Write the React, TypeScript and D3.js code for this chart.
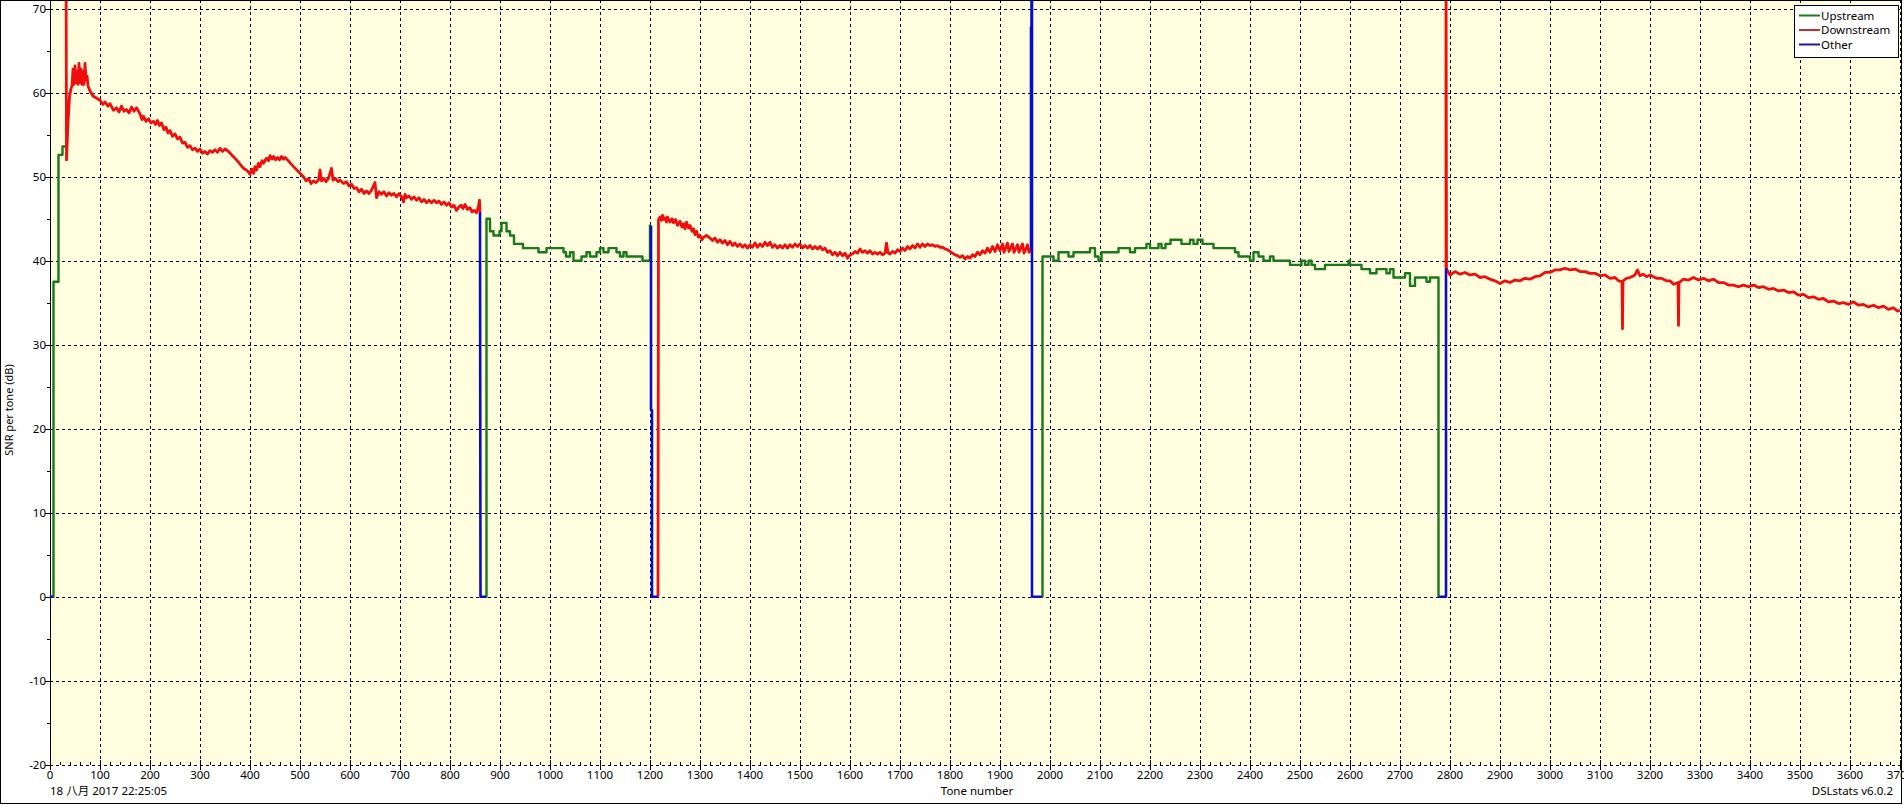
import React from "react";
import * as d3 from "d3";

const W = 1904;
const H = 805;

// ---------- data ----------
const xTickValues = d3.range(0, 3701, 100);
const yTickValues = [-20, -10, 0, 10, 20, 30, 40, 50, 60, 70];

// Upstream (green) bands, step data [tone, SNR dB]
const us0: [number, number][] = [
  [6, 0], [7, 37.5], [17, 52.6], [25, 53.6], [31, 53.6],
];
const us1: [number, number][] = [
  [872, 0], [873, 45.0], [880, 43.5], [887, 43.0], [899, 43.5], [903, 44.5],
  [913, 43.5], [920, 43.0], [928, 42.0], [946, 41.5], [977, 41.0], [993, 41.5],
  [1027, 41.0], [1032, 40.5], [1040, 41.0], [1047, 40.0], [1063, 40.5],
  [1073, 41.0], [1080, 40.5], [1093, 41.0], [1100, 41.5], [1107, 41.0],
  [1117, 41.5], [1133, 41.0], [1140, 40.5], [1147, 41.0], [1153, 40.5],
  [1185, 40.0], [1200, 44.2], [1202, 44.2],
];
const us2: [number, number][] = [
  [1984, 0], [1985, 40.5], [2007, 40.0], [2017, 41.0], [2037, 40.5], [2047, 41.0],
  [2080, 41.5], [2090, 40.5], [2097, 40.0], [2103, 41.0], [2137, 41.5],
  [2160, 41.0], [2170, 41.5], [2193, 42.0], [2200, 41.5], [2217, 42.0],
  [2223, 41.5], [2231, 42.0], [2241, 42.5], [2263, 42.0], [2280, 42.5],
  [2287, 42.0], [2295, 42.5], [2305, 42.0], [2327, 41.5], [2370, 41.0],
  [2377, 40.5], [2400, 40.0], [2407, 41.0], [2417, 40.5], [2427, 40.0],
  [2440, 40.5], [2447, 40.0], [2480, 39.5], [2503, 40.0], [2510, 39.5],
  [2517, 40.0], [2523, 39.5], [2530, 39.0], [2550, 39.5], [2597, 40.0],
  [2600, 39.5], [2623, 39.0], [2640, 38.5], [2653, 39.0], [2673, 38.5],
  [2680, 39.0], [2687, 38.0], [2710, 38.5], [2720, 37.0], [2730, 38.0],
  [2753, 37.5], [2760, 38.0], [2777, 0], [2777.5, 0],
];

// Downstream (red) bands [tone, SNR dB]
const ds1: [number, number][] = [
  [32, 80], [33, 52.0], [35, 55.0], [37, 57.5], [39, 59.5], [42, 60.5],
  [44, 60.8], [46, 62.8], [48, 61.0], [50, 63.2], [52, 61.2], [54, 62.5],
  [56, 61.0], [58, 63.5], [60, 61.2], [62, 62.8], [64, 61.0], [66, 62.5],
  [68, 61.0], [70, 63.5], [72, 61.5], [74, 62.0], [76, 60.8], [80, 60.2],
  [86, 59.6], [92, 59.4], [100, 59.1], [106, 58.6], [110, 58.9], [116, 58.4],
  [120, 58.7], [127, 57.9], [133, 58.2], [138, 57.7], [143, 58.4], [148, 57.8],
  [153, 58.0], [158, 57.6], [163, 58.3], [168, 57.8], [173, 58.2], [180, 57.5],
  [184, 56.8], [187, 57.2], [192, 56.6], [197, 56.9], [202, 56.4], [207, 56.6],
  [211, 56.2], [215, 56.7], [219, 56.1], [223, 56.4], [228, 55.6], [232, 55.9],
  [236, 55.2], [240, 55.5], [245, 54.8], [250, 55.1], [255, 54.5], [260, 54.7],
  [265, 54.0], [270, 54.1], [275, 53.5], [280, 53.7], [285, 53.2], [290, 53.4],
  [295, 53.0], [300, 53.3], [305, 52.8], [310, 53.0], [315, 52.7], [320, 53.1],
  [325, 52.9], [330, 53.2], [335, 52.9], [340, 53.4], [345, 53.0], [350, 53.3],
  [357, 53.0], [365, 52.5], [373, 52.0], [380, 51.5], [387, 51.0], [395, 50.7],
  [400, 50.3], [404, 50.9], [407, 50.4], [410, 51.2], [413, 50.8], [417, 51.6],
  [420, 51.2], [424, 51.9], [427, 51.6], [433, 52.2], [437, 51.9], [440, 52.5],
  [444, 52.1], [447, 52.4], [451, 52.0], [455, 52.3], [459, 52.0], [463, 52.4],
  [467, 52.1], [470, 52.3], [478, 51.8], [487, 51.2], [497, 50.6], [507, 50.0],
  [512, 49.5], [517, 49.8], [522, 49.2], [527, 49.5], [532, 49.3], [537, 49.6],
  [540, 50.8], [543, 49.5], [548, 49.8], [552, 49.4], [557, 49.8], [563, 51.0],
  [566, 49.6], [571, 49.8], [576, 49.4], [580, 49.6], [587, 49.2], [593, 49.4],
  [598, 48.9], [603, 49.1], [608, 48.6], [613, 48.7], [618, 48.2], [623, 48.5],
  [628, 48.0], [633, 48.3], [638, 48.0], [643, 48.4], [650, 49.3], [653, 47.5],
  [658, 48.2], [663, 47.9], [668, 48.2], [673, 47.7], [678, 48.1], [683, 47.8],
  [688, 48.0], [693, 47.6], [698, 48.0], [703, 47.6], [707, 47.0], [710, 47.9],
  [713, 47.5], [718, 47.7], [723, 47.3], [728, 47.6], [733, 47.2], [738, 47.5],
  [743, 47.0], [748, 47.3], [753, 46.9], [758, 47.2], [763, 46.9], [768, 47.2],
  [773, 46.9], [778, 47.1], [783, 46.7], [788, 47.0], [793, 46.6], [798, 46.9],
  [803, 46.4], [808, 46.6], [813, 46.0], [818, 46.4], [822, 46.6], [826, 46.2],
  [830, 46.7], [835, 46.1], [840, 46.3], [844, 45.8], [848, 46.0], [853, 45.7],
  [857, 46.5], [859, 47.2], [860, 45.8],
];
const ds2: [number, number][] = [
  [1216, 0], [1217, 44.9], [1220, 45.2], [1223, 44.8], [1225, 45.4], [1228, 44.9],
  [1230, 45.1], [1233, 44.6], [1235, 45.2], [1240, 44.6], [1244, 45.0],
  [1247, 44.5], [1251, 44.9], [1255, 44.2], [1260, 44.7], [1264, 44.0],
  [1267, 44.4], [1270, 43.8], [1273, 44.6], [1277, 43.9], [1280, 44.2],
  [1284, 43.5], [1287, 43.8], [1290, 43.1], [1293, 43.5], [1297, 42.8],
  [1300, 43.0], [1304, 42.5], [1307, 42.8], [1313, 43.0], [1320, 42.7],
  [1325, 42.4], [1330, 42.7], [1335, 42.2], [1340, 42.5], [1345, 42.1],
  [1350, 42.4], [1355, 41.9], [1360, 42.3], [1365, 41.8], [1370, 42.1],
  [1375, 41.7], [1380, 42.0], [1385, 41.6], [1390, 41.9], [1395, 41.5],
  [1400, 41.9], [1405, 41.6], [1410, 42.1], [1415, 41.6], [1420, 42.0],
  [1425, 41.7], [1430, 42.2], [1435, 41.8], [1440, 42.2], [1445, 41.6],
  [1450, 41.9], [1455, 41.5], [1460, 41.8], [1465, 41.5], [1470, 41.9],
  [1475, 41.5], [1480, 41.9], [1485, 41.6], [1490, 42.0], [1495, 41.7],
  [1500, 42.0], [1505, 41.5], [1510, 41.8], [1515, 41.5], [1520, 41.8],
  [1525, 41.4], [1530, 41.7], [1535, 41.4], [1540, 41.7], [1545, 41.3],
  [1550, 41.5], [1555, 41.0], [1560, 41.2], [1565, 40.7], [1570, 41.0],
  [1575, 40.6], [1580, 41.0], [1585, 40.6], [1590, 40.9], [1595, 40.3],
  [1600, 40.7], [1605, 40.8], [1610, 41.1], [1615, 40.9], [1620, 41.4],
  [1625, 41.0], [1630, 41.2], [1635, 40.9], [1640, 41.2], [1645, 40.8],
  [1650, 41.0], [1655, 40.8], [1660, 41.0], [1665, 40.7], [1670, 40.9],
  [1673, 42.1], [1676, 40.95], [1680, 40.8], [1685, 41.1], [1690, 40.9],
  [1695, 41.3], [1700, 41.1], [1705, 41.5], [1710, 41.2], [1715, 41.7],
  [1720, 41.4], [1725, 41.8], [1730, 41.5], [1735, 42.0], [1740, 41.6],
  [1745, 42.0], [1750, 41.7], [1755, 42.0], [1760, 41.8], [1765, 41.9],
  [1770, 41.7], [1775, 41.8], [1780, 41.6], [1785, 41.6], [1790, 41.4],
  [1795, 41.3], [1800, 41.1], [1805, 40.9], [1810, 40.7], [1815, 40.6],
  [1820, 40.4], [1825, 40.6], [1830, 40.2], [1835, 40.5], [1840, 40.3],
  [1845, 40.7], [1850, 40.5], [1855, 41.0], [1860, 40.7], [1865, 41.2],
  [1870, 40.9], [1875, 41.5], [1880, 41.0], [1885, 41.7], [1890, 41.1],
  [1895, 41.9], [1900, 41.2], [1905, 42.0], [1908, 41.0], [1915, 42.1],
  [1918, 41.1], [1925, 42.0], [1928, 41.0], [1935, 41.9], [1938, 41.0],
  [1945, 42.0], [1948, 40.9], [1955, 41.9], [1958, 41.0], [1962, 41.3],
];
const ds3: [number, number][] = [
  [2792, 39.1], [2792, 80], [2793, 39.0], [2800, 38.3], [2810, 38.7],
  [2820, 38.4], [2830, 38.6], [2840, 38.3], [2850, 38.4], [2860, 38.0],
  [2870, 38.1], [2880, 37.8], [2890, 37.6], [2900, 37.3], [2910, 37.6],
  [2920, 37.4], [2930, 37.7], [2940, 37.6], [2950, 37.9], [2960, 37.8],
  [2970, 38.1], [2980, 38.2], [2990, 38.6], [3000, 38.6], [3010, 38.9],
  [3020, 38.9], [3030, 39.1], [3040, 38.9], [3050, 39.0], [3060, 38.7],
  [3070, 38.7], [3080, 38.5], [3090, 38.5], [3100, 38.2], [3110, 38.3],
  [3120, 37.9], [3130, 38.0], [3137, 37.6], [3144, 37.5], [3145, 31.9],
  [3146, 37.6], [3153, 37.9], [3160, 38.0], [3170, 38.3], [3175, 38.9],
  [3180, 38.2], [3186, 38.4], [3193, 38.1], [3200, 38.3], [3213, 37.9],
  [3223, 37.9], [3233, 37.6], [3240, 37.6], [3247, 37.2], [3256, 37.4],
  [3257, 32.3], [3258, 37.4], [3267, 37.8], [3277, 37.7], [3287, 38.0],
  [3297, 37.7], [3307, 37.9], [3317, 37.6], [3327, 37.8], [3337, 37.4],
  [3347, 37.4], [3357, 37.1], [3367, 37.1], [3377, 36.9], [3387, 37.1],
  [3397, 36.9], [3407, 37.1], [3417, 36.8], [3427, 36.9], [3437, 36.6],
  [3447, 36.7], [3457, 36.4], [3467, 36.5], [3477, 36.2], [3487, 36.3],
  [3497, 35.9], [3507, 36.0], [3517, 35.6], [3527, 35.7], [3537, 35.4],
  [3547, 35.5], [3557, 35.1], [3567, 35.2], [3577, 34.9], [3587, 35.0],
  [3597, 34.8], [3607, 35.1], [3617, 34.7], [3627, 34.8], [3637, 34.5],
  [3647, 34.7], [3657, 34.4], [3667, 34.6], [3677, 34.2], [3687, 34.4],
  [3695, 34.0], [3703, 34.1],
];

// Other (blue) segments [tone, SNR dB]
const other0: [number, number][] = [[0, 0], [6, 0]];
const other1: [number, number][] = [[860, 45.8], [861, 0], [872, 0]];
const other2: [number, number][] = [
  [1202, 44.2], [1202, 22.2], [1204, 22.2], [1204, 0], [1216, 0],
];
const other3: [number, number][] = [
  [1962, 41.3], [1962, 67.8], [1963, 67.8], [1963, 80], [1964, 80], [1964, 0], [1984, 0],
];
const other4: [number, number][] = [[2777, 0], [2792, 0], [2792, 39.1]];

const legendItems = [
  { label: "Upstream", color: "#1c7c1c" },
  { label: "Downstream", color: "#c03030" },
  { label: "Other", color: "#1a1a9c" },
];

const FONT = "'Segoe UI', 'Noto Sans', 'Noto Sans CJK SC', sans-serif";

export default function App() {
  const x = d3.scaleLinear().domain([0, 3700]).range([50, 1900]);
  const y = d3.scaleLinear().domain([-20, 70]).range([764.7, 8.7]);
  const top = 0;
  const bottom = y(-20);
  const left = x(0);
  const right = x(3700);

  const line = d3.line<[number, number]>().x((d) => x(d[0])).y((d) => y(d[1]));
  const step = d3
    .line<[number, number]>()
    .x((d) => x(d[0]))
    .y((d) => y(d[1]))
    .curve(d3.curveStepAfter);

  const minorY = d3.range(-15, 70, 10);
  const minorX = d3.range(0, 3700, 20).filter((v) => v % 100 !== 0);

  return (
    <svg
      width={W}
      height={H}
      style={{ position: "fixed", left: 0, top: 0, display: "block", background: "#fff" }}
      fontFamily={FONT}
    >
      <defs>
        <clipPath id="plotClip">
          <rect x={left} y={top} width={right - left} height={bottom - top} />
        </clipPath>
      </defs>
      <rect x={0} y={0} width={W} height={H} fill="#ffffff" />
      <rect x={left} y={top} width={right - left} height={bottom - top} fill="#ffffe0" />

      {/* grid */}
      <g stroke="#000" strokeWidth={1} strokeDasharray="3,3" shapeRendering="crispEdges">
        {xTickValues
          .filter((v) => v > 0)
          .map((v) => (
            <line key={"gx" + v} x1={Math.round(x(v)) + 0.5} x2={Math.round(x(v)) + 0.5} y1={top} y2={bottom} />
          ))}
        {yTickValues.map((v) => (
          <line key={"gy" + v} x1={left} x2={right} y1={Math.round(y(v)) + 0.5} y2={Math.round(y(v)) + 0.5} />
        ))}
      </g>

      {/* axes */}
      <g stroke="#000" strokeWidth={1} shapeRendering="crispEdges">
        <line x1={left + 0.5} x2={left + 0.5} y1={top} y2={bottom} />
        {yTickValues.map((v) => (
          <line key={"ty" + v} x1={left - 5} x2={left} y1={Math.round(y(v)) + 0.5} y2={Math.round(y(v)) + 0.5} />
        ))}
        {minorY.map((v) => (
          <line key={"my" + v} x1={left - 3} x2={left} y1={Math.round(y(v)) + 0.5} y2={Math.round(y(v)) + 0.5} />
        ))}
        {xTickValues.map((v) => (
          <line key={"tx" + v} x1={Math.round(x(v)) + 0.5} x2={Math.round(x(v)) + 0.5} y1={bottom - 5} y2={bottom + 5} />
        ))}
        {minorX.map((v) => (
          <line key={"mx" + v} x1={Math.round(x(v)) + 0.5} x2={Math.round(x(v)) + 0.5} y1={bottom - 3} y2={bottom} />
        ))}
      </g>

      {/* tick labels */}
      <g fontSize={11.5} fill="#000">
        {yTickValues.map((v) => (
          <text key={"ly" + v} x={left - 4} y={y(v)} dy="0.35em" textAnchor="end">
            {v}
          </text>
        ))}
        {xTickValues.map((v) => (
          <text key={"lx" + v} x={x(v)} y={779} textAnchor="middle">
            {v}
          </text>
        ))}
      </g>

      {/* data */}
      <g clipPath="url(#plotClip)" fill="none" strokeLinejoin="round">
        {[us0, us1, us2].map((d, i) => (
          <path key={"us" + i} d={step(d) || ""} stroke="#1a781a" strokeWidth={2.4} />
        ))}
        {[ds1, ds2, ds3].map((d, i) => (
          <path key={"ds" + i} d={line(d) || ""} stroke="#f20d0d" strokeWidth={2.8} />
        ))}
        {[other0, other1, other2, other3, other4].map((d, i) => (
          <path key={"ot" + i} d={line(d) || ""} stroke="#0a0ac8" strokeWidth={2.6} />
        ))}
      </g>

      {/* legend */}
      <g>
        <rect x={1794.5} y={5.5} width={104} height={52} fill="#fff" stroke="#000" strokeWidth={1} shapeRendering="crispEdges" />
        {legendItems.map((it, i) => (
          <g key={it.label}>
            <line x1={1799} x2={1820} y1={15.5 + i * 14.5} y2={15.5 + i * 14.5} stroke={it.color} strokeWidth={2} />
            <text x={1821} y={15.5 + i * 14.5} dy="0.35em" fontSize={11.5} fill="#000">
              {it.label}
            </text>
          </g>
        ))}
      </g>

      {/* titles */}
      <text x={977} y={795} textAnchor="middle" fontSize={11.5} fill="#000">
        Tone number
      </text>
      <text x={50} y={795} fontSize={11.5} fill="#000">
        18 八月 2017 22:25:05
      </text>
      <text x={1893} y={795} textAnchor="end" fontSize={11.5} fill="#000">
        DSLstats v6.0.2
      </text>
      <text
        transform={`translate(13, 410) rotate(-90)`}
        textAnchor="middle"
        fontSize={11}
        fill="#000"
      >
        SNR per tone (dB)
      </text>

      {/* outer frame */}
      <rect x={0.5} y={0.5} width={1901} height={803} fill="none" stroke="#000" strokeWidth={1} shapeRendering="crispEdges" />
    </svg>
  );
}
